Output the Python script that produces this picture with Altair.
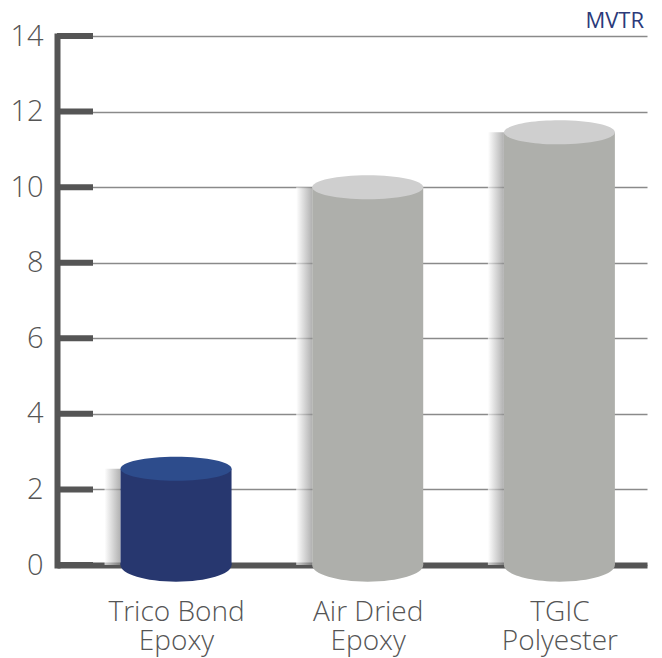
import json
import altair as alt
import pandas as pd

categories = ["Trico Bond Epoxy", "Air Dried Epoxy", "TGIC Polyester"]
label_lines = [["Trico Bond", "Epoxy"], ["Air Dried", "Epoxy"], ["TGIC", "Polyester"]]
values = [2.55, 10.0, 11.45]
y_ticks = [0, 2, 4, 6, 8, 10, 12, 14]
title_text = "MVTR"

body_colors = ["#27376f", "#aeafab", "#aeafab"]
top_colors = ["#2d4c8c", "#cfcfcf", "#cfcfcf"]

df = pd.DataFrame({"idx": list(range(len(categories))), "category": categories, "value": values})
ticks_df = pd.DataFrame({"t": y_ticks})

W, H = 590, 529
BAR_W = 111
ELL_TOP = "M-1,0 A1,0.216 0 1,1 1,0 A1,0.216 0 1,1 -1,0 Z"
ELL_BOT = "M-1,0 A1,0.3 0 1,1 1,0 A1,0.3 0 1,1 -1,0 Z"

xscale = alt.Scale(domain=[-0.595, 2.431], nice=False, zero=False)
yscale = alt.Scale(domain=[0, 14], nice=False)

body_color = alt.Color("category:N", scale=alt.Scale(domain=categories, range=body_colors), legend=None)
top_color = alt.Color("category:N", scale=alt.Scale(domain=categories, range=top_colors), legend=None)

x_enc = alt.X("idx:Q", scale=xscale, title=None,
              axis=alt.Axis(values=list(range(len(categories))), grid=False, ticks=False, tickSize=0,
                            domain=True, domainColor="#555555", domainWidth=6,
                            labelExpr=json.dumps(label_lines) + "[datum.value]",
                            labelFont="Open Sans", labelFontWeight=300, labelFontSize=28,
                            labelColor="#555555", labelPadding=33, labelLineHeight=29,
                            labelBaseline="top"))
y_enc = alt.Y("value:Q", scale=yscale, title=None,
              axis=alt.Axis(values=y_ticks, grid=True, gridColor="#8a8a8a", gridWidth=1.5,
                            ticks=False, tickSize=0, domain=True, domainColor="#555555",
                            domainWidth=6, domainCap="square",
                            labelFont="Open Sans", labelFontWeight=300, labelFontSize=29,
                            labelColor="#555555", labelPadding=14, labelBaseline="middle"))

base = alt.Chart(df)

tick_marks = alt.Chart(ticks_df).mark_rule(color="#555555", strokeWidth=6).encode(
    y=alt.Y("t:Q", scale=yscale), x=alt.value(0), x2=alt.value(36))

shadow = base.mark_bar(
    size=16, xOffset=-63.5, orient="vertical", opacity=0.7,
    color=alt.LinearGradient(gradient="linear", x1=0, x2=1, y1=0, y2=0,
                             stops=[alt.GradientStop(offset=0, color="#ffffff"),
                                    alt.GradientStop(offset=1, color="#8f8f8f")])
).encode(x=x_enc, y=y_enc)

bottom = base.mark_point(shape=ELL_BOT, size=BAR_W * BAR_W, filled=True, opacity=1, strokeWidth=0).encode(
    x=alt.X("idx:Q", scale=xscale), y=alt.Y("z:Q", scale=yscale), color=body_color
).transform_calculate(z="0")

body = base.mark_bar(size=BAR_W, orient="vertical").encode(x=x_enc, y=y_enc, color=body_color)

top = base.mark_point(shape=ELL_TOP, size=BAR_W * BAR_W, filled=True, opacity=1, strokeWidth=0).encode(
    x=alt.X("idx:Q", scale=xscale), y=alt.Y("value:Q", scale=yscale), color=top_color)

title = alt.Chart(pd.DataFrame({"t": [title_text]})).mark_text(
    align="right", baseline="alphabetic", font="Open Sans", fontSize=22, color="#2b3a7a"
).encode(text="t:N", x=alt.value(587), y=alt.value(-8))

chart = alt.layer(tick_marks, shadow, bottom, body, top, title).resolve_scale(color="independent").properties(
    width=W, height=H,
    autosize=alt.AutoSizeParams(type="none"),
    padding={"left": 49, "top": 28, "right": 5, "bottom": 92},
).configure_view(stroke=None)

chart.save("out.html", embed_options={"renderer": "svg", "actions": False})
